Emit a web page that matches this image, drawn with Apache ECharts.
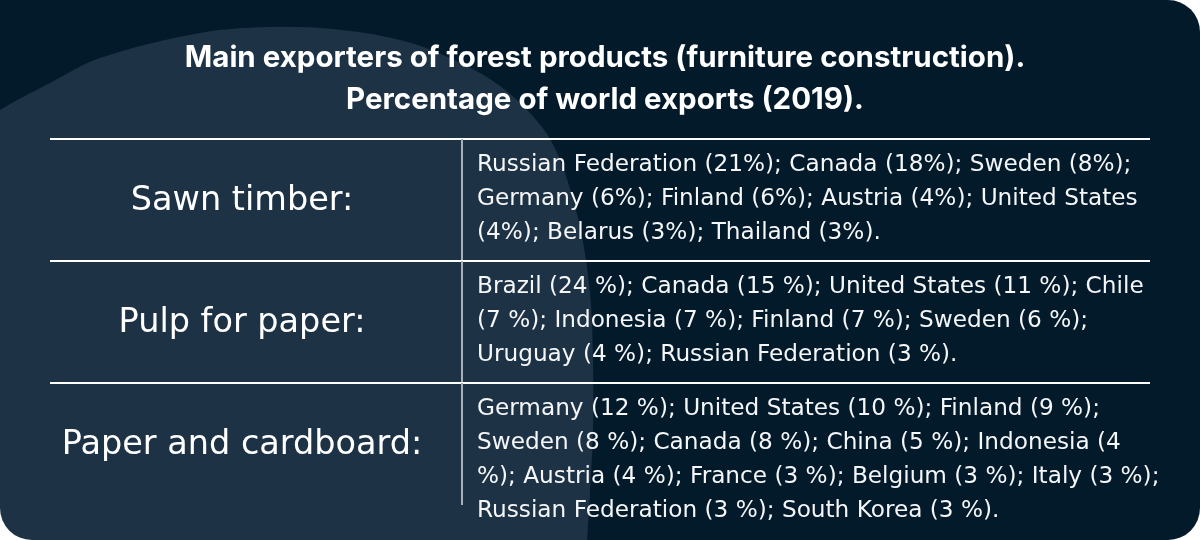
<!DOCTYPE html>
<html>
<head>
<meta charset="utf-8">
<script src="https://cdn.jsdelivr.net/npm/echarts@6/dist/echarts.min.js"></script>
<style>
html, body { margin: 0; padding: 0; background: #ffffff; }
#chart { width: 1200px; height: 540px; border-radius: 0 32px 32px 32px; overflow: hidden; }
</style>
</head>
<body>
<div id="chart"></div>
<script>
// ---- data ----
const titleLines = [
  'Main exporters of forest products (furniture construction).',
  'Percentage of world exports (2019).'
];
const categories = ['Sawn timber:', 'Pulp for paper:', 'Paper and cardboard:'];

const sawnCountries = ['Russian Federation', 'Canada', 'Sweden', 'Germany', 'Finland', 'Austria', 'United States', 'Belarus', 'Thailand'];
const sawnShares = [21, 18, 8, 6, 6, 4, 4, 3, 3];

const pulpCountries = ['Brazil', 'Canada', 'United States', 'Chile', 'Indonesia', 'Finland', 'Sweden', 'Uruguay', 'Russian Federation'];
const pulpShares = [24, 15, 11, 7, 7, 7, 6, 4, 3];

const paperCountries = ['Germany', 'United States', 'Finland', 'Sweden', 'Canada', 'China', 'Indonesia', 'Austria', 'France', 'Belgium', 'Italy', 'Russian Federation', 'South Korea'];
const paperShares = [12, 10, 9, 8, 8, 5, 4, 4, 3, 3, 3, 3, 3];

const percentSuffix = ['%', ' %', ' %'];

// layout: number of space-separated words on each wrapped line (last line takes the rest)
const wordsPerLine = [[7, 8], [11, 11], [10, 11, 13]];

// ---- build row texts ----
const rowCountries = [sawnCountries, pulpCountries, paperCountries];
const rowShares = [sawnShares, pulpShares, paperShares];
const rowTexts = rowCountries.map(function (list, r) {
  const full = list.map(function (c, i) {
    return c + ' (' + rowShares[r][i] + percentSuffix[r] + ')';
  }).join('; ') + '.';
  const words = full.split(' ');
  const lines = [];
  let pos = 0;
  wordsPerLine[r].forEach(function (n) {
    lines.push(words.slice(pos, pos + n).join(' '));
    pos += n;
  });
  lines.push(words.slice(pos).join(' '));
  return lines.join('\n');
});

const TITLE_FONT = 'Inter, "Noto Sans", sans-serif';
const BODY_FONT = '"DejaVu Sans", "Noto Sans", sans-serif';
const DARK = '#031a2b';
const LIGHT = '#1e3245';

const chart = echarts.init(document.getElementById('chart'), null, { renderer: 'canvas' });

// decorative lighter blob in the background
const blobPoints = [
  [-60, 150], [0, 110], [50, 83], [100, 58], [200, 33], [267, 27], [333, 29],
  [400, 40], [450, 58], [500, 86], [542, 127], [562, 165], [580, 227],
  [590, 293], [593, 360], [593, 430], [590, 493], [587, 545], [585, 620], [-60, 620]
];

const option = {
  backgroundColor: DARK,
  animation: false,
  title: {
    text: titleLines.join('\n'),
    left: 605,
    top: 37,
    padding: 0,
    textAlign: 'center',
    textStyle: {
      color: '#ffffff',
      fontFamily: TITLE_FONT,
      fontWeight: 'bold',
      fontSize: 29.5,
      lineHeight: 42
    }
  },
  graphic: [{
    type: 'polygon',
    z: -10,
    silent: true,
    shape: { points: blobPoints, smooth: 0.35 },
    style: { fill: LIGHT }
  }],
  grid: { left: 50, right: 50, top: 139, height: 366 },
  xAxis: { type: 'value', min: 0, max: 1, show: false },
  yAxis: { type: 'category', data: categories, inverse: true, show: false },
  series: [{
    type: 'custom',
    clip: false,
    silent: true,
    data: categories.map(function (c, i) { return [0, i]; }),
    renderItem: function (params, api) {
      const cs = params.coordSys;
      const i = params.dataIndex;
      const center = api.coord([0, api.value(1)]);
      const band = api.size([0, 1])[1];
      const top = center[1] - band / 2;
      const splitX = cs.x + 412;
      return {
        type: 'group',
        children: [
          {
            type: 'line',
            shape: { x1: cs.x, y1: top, x2: cs.x + cs.width, y2: top },
            style: { stroke: '#ffffff', lineWidth: 2 }
          },
          {
            type: 'line',
            shape: { x1: splitX, y1: top, x2: splitX, y2: top + band },
            style: { stroke: '#a7b1ba', lineWidth: 2 }
          },
          {
            type: 'text',
            style: {
              text: categories[i],
              x: cs.x + 192,
              y: center[1] + 1,
              align: 'center',
              verticalAlign: 'middle',
              fill: '#ffffff',
              fontFamily: BODY_FONT,
              fontSize: 33.5,
              fontWeight: 'normal'
            }
          },
          {
            type: 'text',
            style: {
              text: rowTexts[i],
              x: splitX + 15,
              y: top + 9,
              lineHeight: 34,
              align: 'left',
              verticalAlign: 'top',
              fill: '#f4f6f8',
              fontFamily: BODY_FONT,
              fontSize: 23.2,
              fontWeight: 'normal'
            }
          }
        ]
      };
    }
  }]
};

chart.setOption(option);
</script>
</body>
</html>
